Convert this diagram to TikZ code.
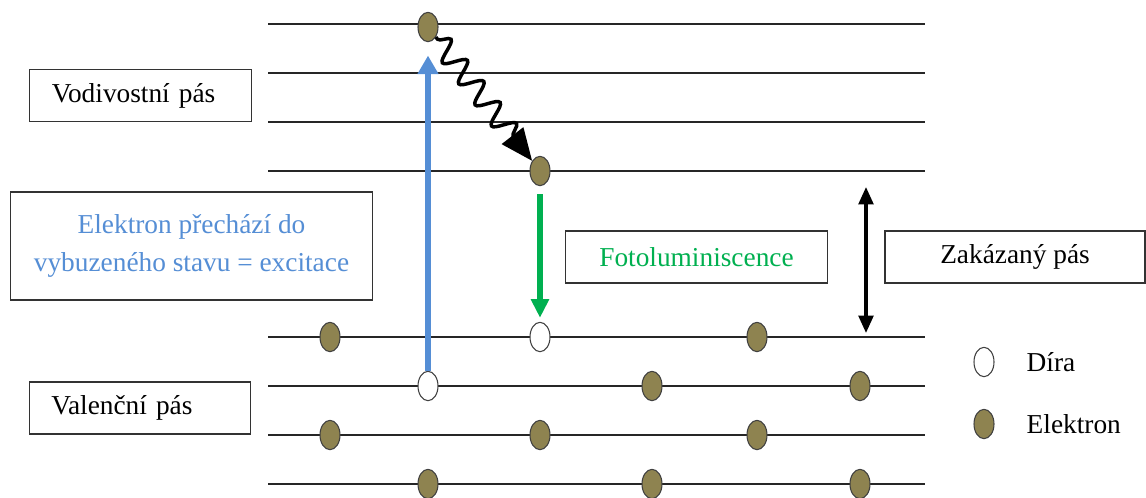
\documentclass[tikz,border=0pt]{standalone}
\usepackage{fontspec}
\setmainfont{Liberation Serif}
\usepackage{xcolor}
\usepackage{tikz}
\usetikzlibrary{arrows.meta,shapes.geometric,decorations.pathmorphing}

\definecolor{elfill}{RGB}{142,131,80}
\definecolor{excblue}{RGB}{85,142,213}
\definecolor{lumgreen}{RGB}{0,176,80}

\begin{document}
\begin{tikzpicture}[
  x=0.75pt,
  y=-0.75pt,
  font=\fontsize{20.5}{28}\selectfont,
  level/.style={line width=1pt, draw=black!85},
  electron/.style={
    ellipse,
    draw=black!75,
    line width=0.8pt,
    fill=elfill,
    minimum width=15pt,
    minimum height=22pt,
    inner sep=0pt
  },
  hole/.style={electron, fill=white},
  bandbox/.style={
    rectangle,
    draw=black!80,
    line width=0.9pt,
    fill=white,
    minimum height=39pt,
    inner xsep=16.5pt,
    text width=133pt,
    align=left
  },
  infobox/.style={
    rectangle,
    draw=black!80,
    line width=0.9pt,
    fill=white,
    align=center
  },
  excite/.style={-{Triangle[length=14pt,width=15pt]}, line width=4.5pt, draw=excblue, excblue},
  lum/.style={-{Triangle[length=14pt,width=13pt]}, line width=3.8pt, draw=lumgreen, lumgreen},
  relax/.style={
    -{Triangle[length=24pt,width=20pt]},
    line width=2.6pt,
    decorate,
    decoration={snake, amplitude=8pt, segment length=20pt, pre length=2pt, post length=22pt}
  },
  gap/.style={{Triangle[length=13pt,width=11pt]}-{Triangle[length=13pt,width=11pt]}, line width=2.4pt}
]
  \useasboundingbox (0,0) rectangle (1146,497);

  % energy levels
  \foreach \ly in {24,73,122,171,337,386,435,484}
    \draw[level] (268,\ly) -- (925,\ly);

  % labels of the bands
  \node[bandbox]  (vod)  at (140.5,95.5) {Vodivostní pás};
  \node[bandbox]  (val)  at (140,408)    {Valenční pás};
  \node[infobox, minimum width=272pt, minimum height=81pt, text=excblue] (exc) at (191.5,246)
    {Elektron přechází do\\vybuzeného stavu = excitace};
  \node[infobox, minimum width=197pt, minimum height=39pt, text=lumgreen] (foto) at (696.5,257) {Fotoluminiscence};
  \node[infobox, minimum width=195pt, minimum height=39pt] (zak) at (1015,257) {Zakázaný pás};

  % conduction band
  \node[electron] (e1) at (428,27)  {};
  \node[electron] (e2) at (540,171) {};

  % valence band
  \node[electron] (v11) at (330,337) {};
  \node[hole]     (h2)  at (540,337) {};
  \node[electron] (v13) at (757,337) {};
  \node[hole]     (h1)  at (428,386) {};
  \node[electron] (v22) at (652,386) {};
  \node[electron] (v23) at (860,386) {};
  \node[electron] (v31) at (330,435) {};
  \node[electron] (v32) at (540,435) {};
  \node[electron] (v33) at (757,435) {};
  \node[electron] (v41) at (428,484) {};
  \node[electron] (v42) at (652,484) {};
  \node[electron] (v43) at (860,484) {};

  % transitions
  \draw[excite] (h1) -- (e1) [shorten >=10pt];
  \draw[relax]  (e1) -- (e2);
  \draw[lum, shorten <=6pt, shorten >=3pt] (e2) -- (h2);

  % band gap
  \coordinate (gtop) at (866,187);
  \coordinate (gbot) at (866,333);
  \draw[gap] (gtop) -- (gbot);

  % legend
  \node[hole]     (lhole) at (984,362) {};
  \node[anchor=west] (ldira) at (1022,362) {Díra};
  \node[electron] (lel)   at (984,424) {};
  \node[anchor=west] (lelek) at (1022,424) {Elektron};
\end{tikzpicture}
\end{document}
